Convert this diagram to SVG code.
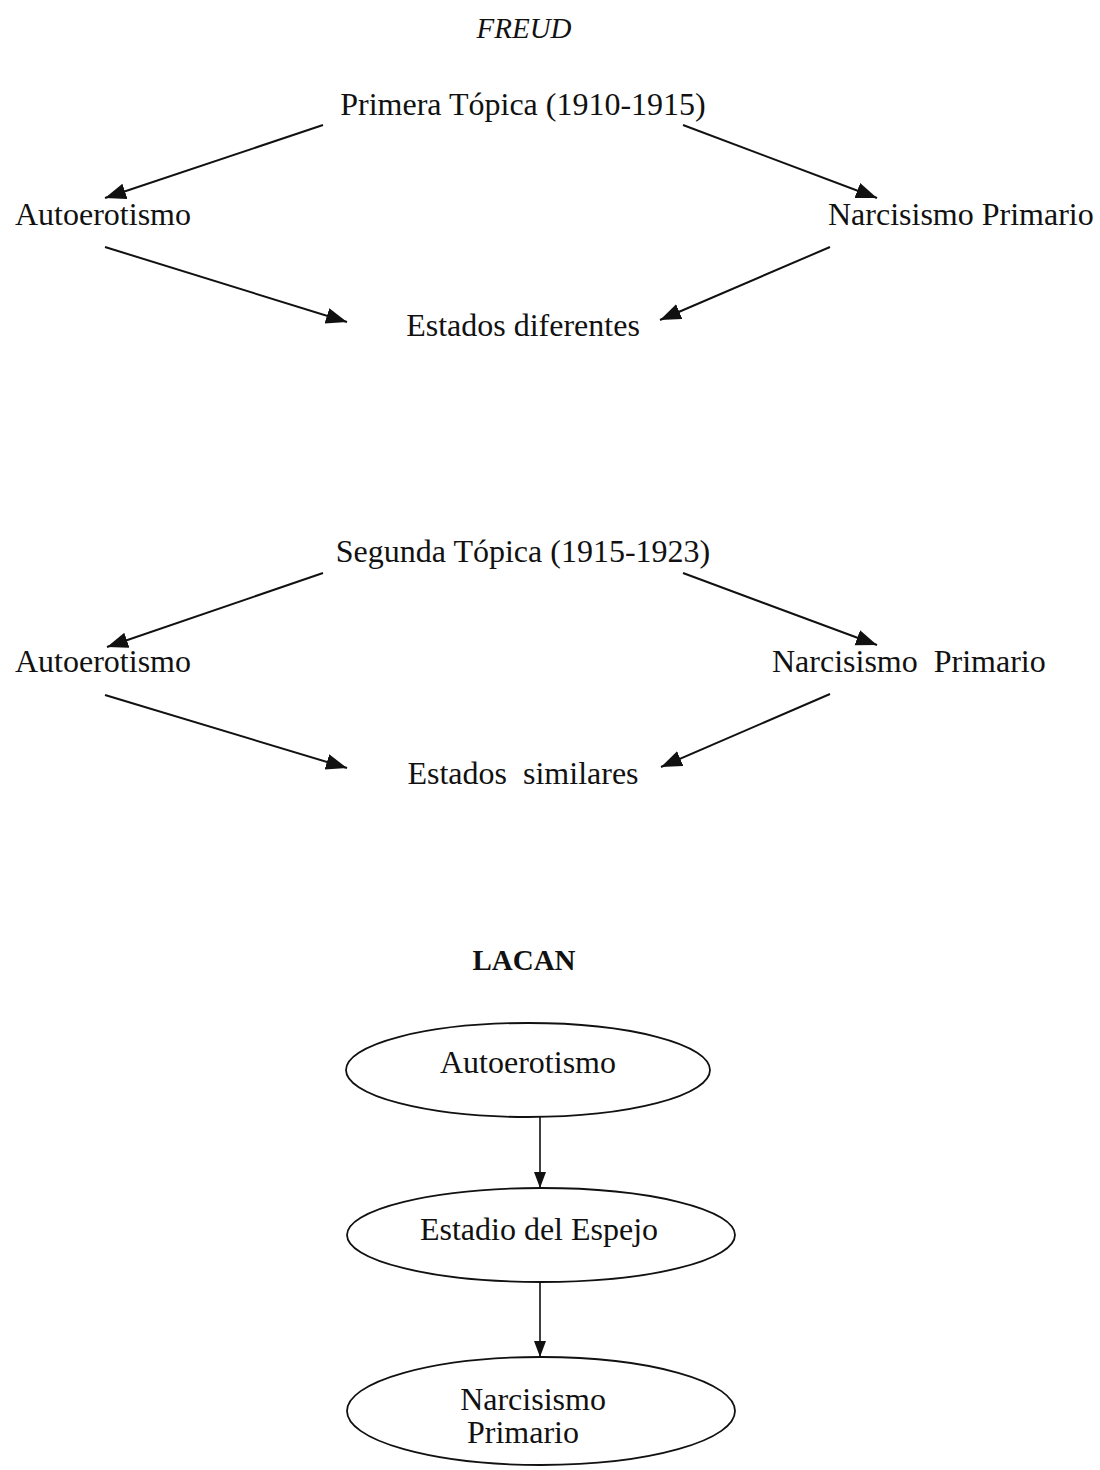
<svg xmlns="http://www.w3.org/2000/svg" width="1100" height="1470" viewBox="0 0 1100 1470">
<style>
text{font-family:"Liberation Serif","Times New Roman",serif;font-size:32px;fill:#111;}
.c{text-anchor:middle;}
.conn line{stroke:#111;stroke-width:2;marker-end:url(#ah);}
.conn2 line{stroke:#111;stroke-width:1.6;marker-end:url(#ah2);}
ellipse{fill:none;stroke:#111;stroke-width:1.8;}
</style>
<defs>
<marker id="ah" markerUnits="userSpaceOnUse" markerWidth="24" markerHeight="18" refX="21" refY="8" orient="auto">
<path d="M0,0 L21,8 L0,16 Z" fill="#111"/>
</marker>
<marker id="ah2" markerUnits="userSpaceOnUse" markerWidth="18" markerHeight="14" refX="16" refY="6" orient="auto">
<path d="M0,0 L16,6 L0,12 Z" fill="#111"/>
</marker>
</defs>
<g id="title-freud"><text class="c" x="524" y="38" font-style="italic" style="font-size:29px">FREUD</text></g>
<g id="primera"><text class="c" x="523" y="115">Primera Tópica (1910-1915)</text></g>
<g id="auto1"><text x="15" y="225">Autoerotismo</text></g>
<g id="narc1"><text x="828" y="225">Narcisismo Primario</text></g>
<g id="estados1"><text class="c" x="523" y="336">Estados diferentes</text></g>
<g id="segunda"><text class="c" x="523" y="562">Segunda Tópica (1915-1923)</text></g>
<g id="auto2"><text x="15" y="672">Autoerotismo</text></g>
<g id="narc2"><text x="772" y="672" xml:space="preserve">Narcisismo  Primario</text></g>
<g id="estados2"><text class="c" x="523" y="784" xml:space="preserve">Estados  similares</text></g>
<g id="title-lacan"><text class="c" x="524" y="970" font-weight="bold" style="font-size:29px">LACAN</text></g>
<g id="l-auto"><ellipse cx="528" cy="1070" rx="182" ry="47"/><text class="c" x="528" y="1073">Autoerotismo</text></g>
<g id="l-espejo"><ellipse cx="541" cy="1235" rx="194" ry="47"/><text class="c" x="539" y="1240">Estadio del Espejo</text></g>
<g id="l-narc"><ellipse cx="541" cy="1411" rx="194" ry="54"/><text class="c" x="533" y="1410">Narcisismo</text><text class="c" x="523" y="1443">Primario</text></g>
<g id="connectors">
<g class="conn">
<line x1="323" y1="125" x2="105" y2="198"/>
<line x1="683" y1="125" x2="877" y2="198"/>
<line x1="105" y1="247" x2="347" y2="322"/>
<line x1="830" y1="247" x2="660" y2="320"/>
<line x1="323" y1="573" x2="107" y2="647"/>
<line x1="683" y1="573" x2="877" y2="645"/>
<line x1="105" y1="695" x2="347" y2="768"/>
<line x1="830" y1="694" x2="661" y2="767"/>
</g>
<g class="conn2">
<line x1="540" y1="1117" x2="540" y2="1188"/>
<line x1="540" y1="1283" x2="540" y2="1357"/>
</g>
</g>
</svg>
